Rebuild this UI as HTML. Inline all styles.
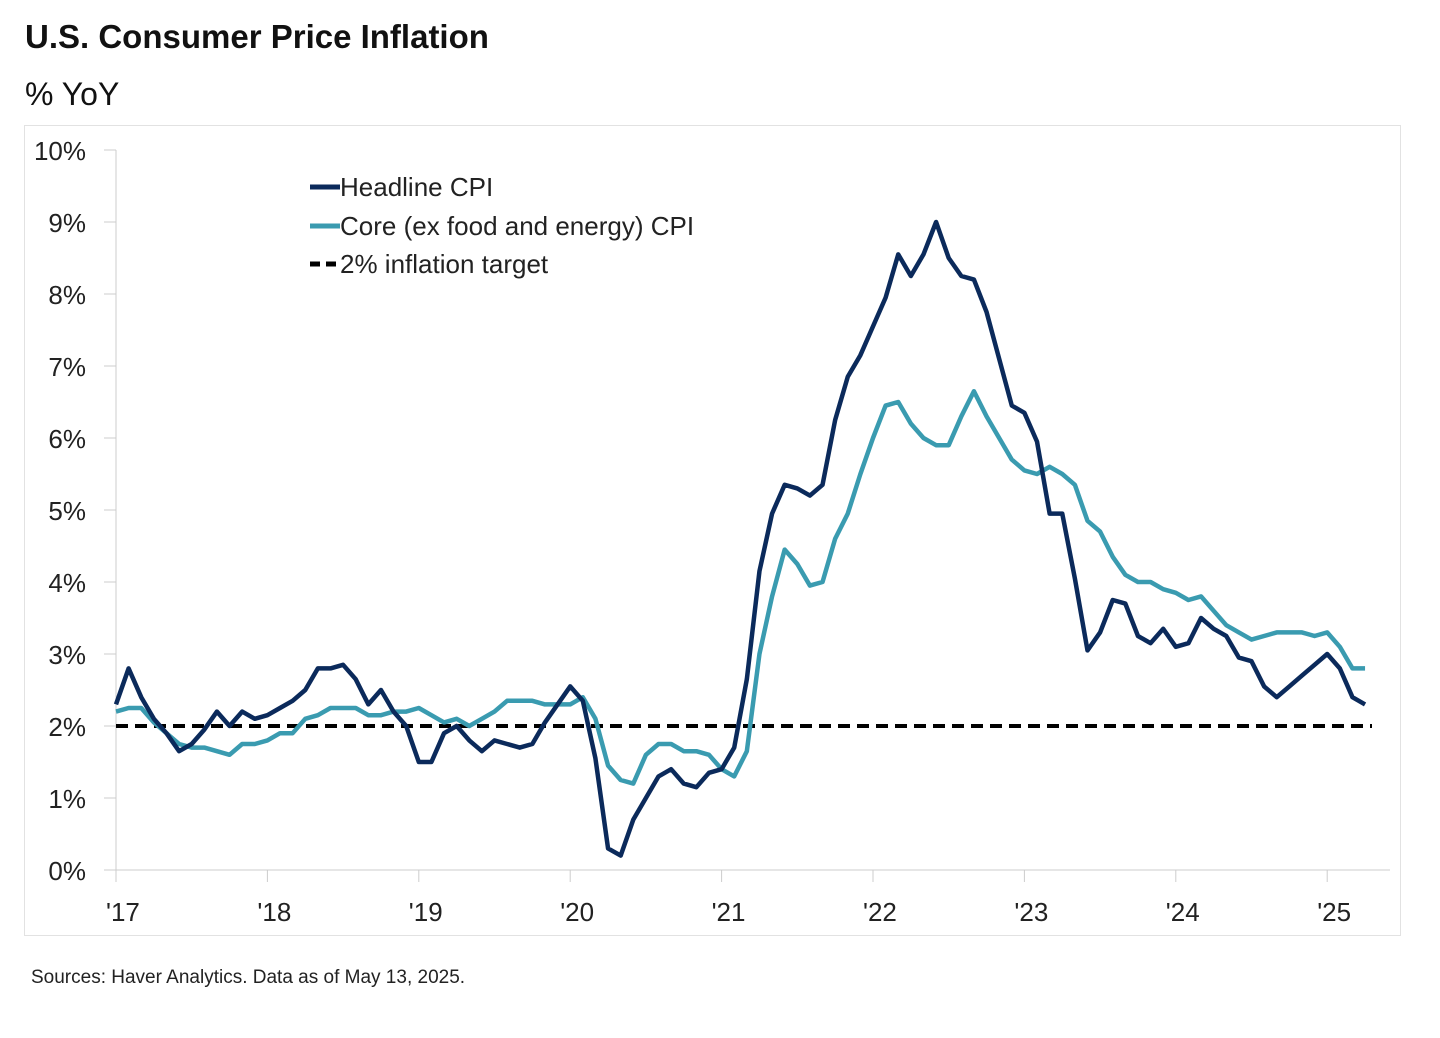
<!DOCTYPE html>
<html><head><meta charset="utf-8"><style>
body{margin:0;background:#fff;font-family:"Liberation Sans",sans-serif;}
</style></head><body>
<svg id="chart" width="1440" height="1033" xmlns="http://www.w3.org/2000/svg" font-family="Liberation Sans, sans-serif">
<text x="25" y="48" font-size="33" font-weight="bold" fill="#111">U.S. Consumer Price Inflation</text>
<text x="25" y="105" font-size="32" fill="#111">% YoY</text>
<rect x="24.5" y="125.5" width="1376" height="810" fill="none" stroke="#e2e2e2"/>
<g id="axes"></g><g id="series"></g>
<g>
<line x1="310" y1="187" x2="340" y2="187" stroke="#0b2a5b" stroke-width="5"/>
<text x="340" y="196" font-size="26" fill="#222">Headline CPI</text>
<line x1="310" y1="226" x2="340" y2="226" stroke="#3a9bb0" stroke-width="5"/>
<text x="340" y="235" font-size="26" fill="#222">Core (ex food and energy) CPI</text>
<line x1="310" y1="264" x2="340" y2="264" stroke="#000" stroke-width="5" stroke-dasharray="10,6"/>
<text x="340" y="273" font-size="26" fill="#222">2% inflation target</text>
</g>
<text x="31" y="983" font-size="19" fill="#222">Sources: Haver Analytics. Data as of May 13, 2025.</text>
</svg>
<script>
const yTicks=[0,1,2,3,4,5,6,7,8,9,10];
const xLabels=["'17","'18","'19","'20","'21","'22","'23","'24","'25"];
const target=2;
const headline=[2.3,2.8,2.4,2.1,1.9,1.65,1.75,1.95,2.2,2.0,2.2,2.1,
2.15,2.25,2.35,2.5,2.8,2.8,2.85,2.65,2.3,2.5,2.2,2.0,
1.5,1.5,1.9,2.0,1.8,1.65,1.8,1.75,1.7,1.75,2.05,2.3,
2.55,2.35,1.55,0.3,0.2,0.7,1.0,1.3,1.4,1.2,1.15,1.35,
1.4,1.7,2.65,4.15,4.95,5.35,5.3,5.2,5.35,6.25,6.85,7.15,
7.55,7.95,8.55,8.25,8.55,9.0,8.5,8.25,8.2,7.75,7.1,6.45,
6.35,5.95,4.95,4.95,4.05,3.05,3.3,3.75,3.7,3.25,3.15,3.35,
3.1,3.15,3.5,3.35,3.25,2.95,2.9,2.55,2.4,2.55,2.7,2.85,
3.0,2.8,2.4,2.3];
const core=[2.2,2.25,2.25,2.05,1.9,1.75,1.7,1.7,1.65,1.6,1.75,1.75,
1.8,1.9,1.9,2.1,2.15,2.25,2.25,2.25,2.15,2.15,2.2,2.2,
2.25,2.15,2.05,2.1,2.0,2.1,2.2,2.35,2.35,2.35,2.3,2.3,
2.3,2.4,2.1,1.45,1.25,1.2,1.6,1.75,1.75,1.65,1.65,1.6,
1.4,1.3,1.65,3.0,3.8,4.45,4.25,3.95,4.0,4.6,4.95,5.5,
6.0,6.45,6.5,6.2,6.0,5.9,5.9,6.3,6.65,6.3,6.0,5.7,
5.55,5.5,5.6,5.5,5.35,4.85,4.7,4.35,4.1,4.0,4.0,3.9,
3.85,3.75,3.8,3.6,3.4,3.3,3.2,3.25,3.3,3.3,3.3,3.25,
3.3,3.1,2.8,2.8];
const NS="http://www.w3.org/2000/svg";
const X0=116,YEAR=151.4,Y0=870,PER=72;
const xs=i=>X0+i*YEAR/12, ys=v=>Y0-v*PER;
function mk(tag,attrs,parent){const e=document.createElementNS(NS,tag);for(const k in attrs)e.setAttribute(k,attrs[k]);parent.appendChild(e);return e;}
const axes=document.getElementById('axes'),ser=document.getElementById('series');
const ya=mk('line',{x1:116,y1:150,x2:116,y2:870,stroke:'#ccc','stroke-width':1},axes);


const xa=mk('line',{x1:116,y1:870,x2:1390,y2:870,stroke:'#ccc','stroke-width':1},axes);


yTicks.forEach(v=>{
 const t=mk('text',{x:86,y:ys(v)+10,'font-size':26,fill:'#222','text-anchor':'end'},axes);t.textContent=v+'%';
 
 
 const tk=mk('line',{x1:104,x2:116,y1:ys(v),y2:ys(v),stroke:'#ccc'},axes);
 
 
});
xLabels.forEach((l,i)=>{
 const x=X0+i*YEAR;
 const tk=mk('line',{x1:x,x2:x,y1:870,y2:882,stroke:'#ccc'},axes);
 
 
 const t=mk('text',{x:x-10,y:921,'font-size':26,fill:'#222'},axes);t.textContent=l;
 
 
});
const tl=mk('line',{x1:116,x2:1372,y1:ys(target),y2:ys(target),stroke:'#000','stroke-width':4,'stroke-dasharray':'12,7'},ser);


function line(d,c,name){const p=mk('polyline',{points:d.map((v,i)=>xs(i)+','+ys(v)).join(' '),fill:'none',stroke:c,'stroke-width':4.5,'stroke-linejoin':'round'},ser);
 
 }
line(core,'#3a9bb0','core-cpi-line');
line(headline,'#0b2a5b','headline-cpi-line');
</script>
</body></html>
